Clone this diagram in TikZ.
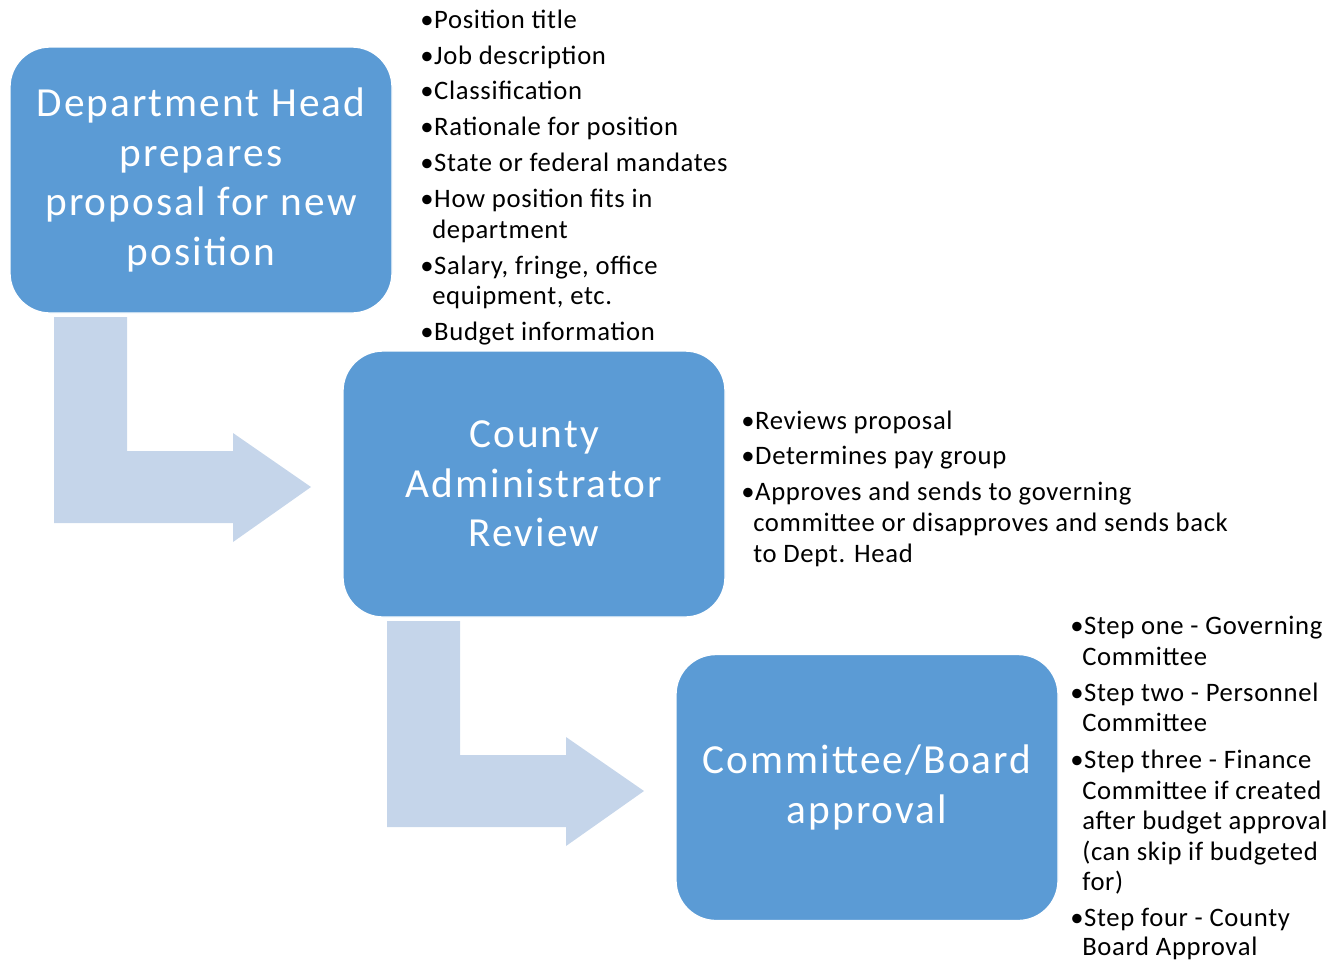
\documentclass[tikz,border=0pt]{standalone}
\usepackage{fontspec}
\setmainfont{Carlito}
\definecolor{boxblue}{HTML}{5B9BD5}
\definecolor{arrowblue}{HTML}{C5D5EA}
\begin{document}
\begin{tikzpicture}[x=0.75pt,y=-0.75pt,
 box/.style={fill=boxblue, draw=white, line width=1pt, rounded corners=30pt,
   minimum width=286.5pt, minimum height=199.5pt, text=white, align=center,
   font=\fontsize{31}{37.1}\selectfont\addfontfeature{LetterSpace=5}, inner sep=0pt},
 bul/.style={anchor=base west, inner sep=0pt, font=\fontsize{20}{23.4}\selectfont\addfontfeature{LetterSpace=2.5}},
 blockarrow/.style={fill=arrowblue, draw=none}]
\useasboundingbox (0,0) rectangle (1344,961);
% block arrows
\fill[blockarrow] (54,317) -- (127,317) -- (127,451) -- (233,451) -- (233,433) -- (311,487)
  -- (233,542) -- (233,523) -- (54,523) -- cycle;
\fill[blockarrow] (387,621) -- (460,621) -- (460,755) -- (566,755) -- (566,737) -- (644,791)
  -- (566,846) -- (566,827) -- (387,827) -- cycle;
% boxes
\node[box] (b1) at (201,180) {Department Head\\prepares\\proposal for new\\position};
\node[box] (b2) at (534,484) {County\\Administrator\\Review};
\node[box] (b3) at (867,787.5) {Committee/Board\\approval};
% list 1
\node[bul] (a1) at (420,28) {•Position title};
\node[bul] (a2) at (420,64) {•Job description};
\node[bul] (a3) at (420,99) {•Classification};
\node[bul] (a4) at (420,135) {•Rationale for position};
\node[bul] (a5) at (420,171) {•State or federal mandates};
\node[bul] (a6) at (420,207) {•How position fits in};
\node[bul] (a6b) at (432,238) {department};
\node[bul] (a7) at (420,274) {•Salary, fringe, office};
\node[bul] (a7b) at (432,304) {equipment, etc.};
\node[bul] (a8) at (420,340) {•Budget information};
% list 2
\node[bul] (c1) at (741,429) {•Reviews proposal};
\node[bul] (c2) at (741,464) {•Determines pay group};
\node[bul] (c3) at (741,500) {•Approves and sends to governing};
\node[bul] (c3b) at (753,531) {committee or disapproves and sends back};
\node[bul] (c3c) at (753,562) {to Dept. Head};
% list 3
\node[bul] (d1) at (1070,634) {•Step one - Governing};
\node[bul] (d1b) at (1082,665) {Committee};
\node[bul] (d2) at (1070,701) {•Step two - Personnel};
\node[bul] (d2b) at (1082,731) {Committee};
\node[bul] (d3) at (1070,768) {•Step three - Finance};
\node[bul] (d3b) at (1082,799) {Committee if created};
\node[bul] (d3c) at (1082,829) {after budget approval};
\node[bul] (d3d) at (1082,860) {(can skip if budgeted};
\node[bul] (d3e) at (1082,890) {for)};
\node[bul] (d4) at (1070,926) {•Step four - County};
\node[bul] (d4b) at (1082,955) {Board Approval};
\end{tikzpicture}
\end{document}
